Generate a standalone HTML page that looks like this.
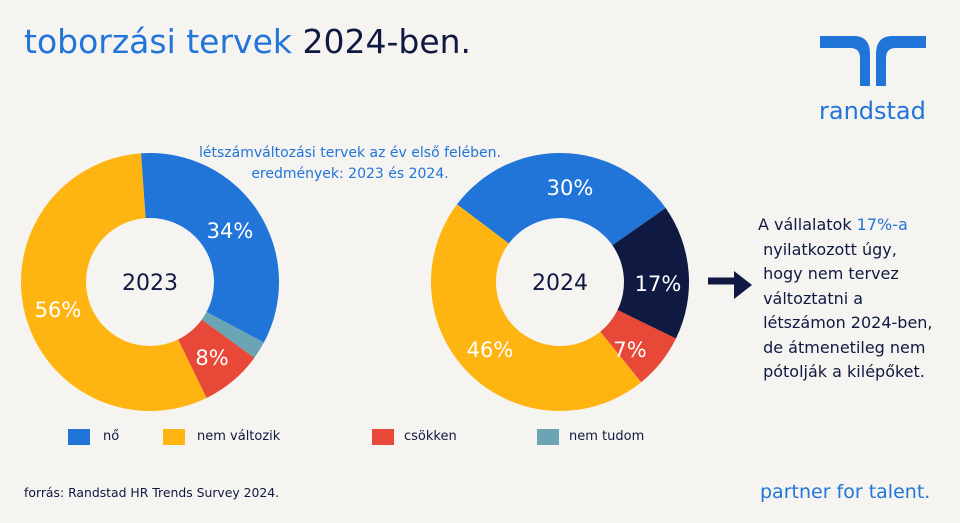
<!DOCTYPE html>
<html><head><meta charset="utf-8"><style>
body{margin:0;width:960px;height:523px;background:#f5f4f0;font-family:"DejaVu Sans","Liberation Sans",sans-serif;overflow:hidden;position:relative}
.t{position:absolute;white-space:nowrap}
</style></head><body>
<div class="t" style="left:24px;top:22px;font-size:33px;color:#2175d9">toborzási tervek <span style="color:#0f1941">2024-ben.</span></div>
<svg style="position:absolute;left:820px;top:36px" width="106" height="50" viewBox="0 0 106 50">
<path d="M0 0 H34 Q50 0 50 18 V50 H40 V22 Q40 12 30 12 H0Z" fill="#2175d9"/>
<path d="M106 0 H72 Q56 0 56 18 V50 H66 V22 Q66 12 76 12 H106Z" fill="#2175d9"/>
</svg>
<div class="t" style="left:819px;top:97px;font-size:24px;color:#2175d9">randstad</div>
<div class="t" style="left:0;width:700px;top:143px;text-align:center;font-size:14px;line-height:21px;color:#2175d9">létszámváltozási tervek az év első felében.<br>eredmények: 2023 és 2024.</div>
<svg style="position:absolute;left:0;top:0" width="960" height="523" id="s"></svg>
<div class="t" style="left:758px;top:213px;font-size:16px;line-height:24.5px;color:#0f1941">A vállalatok <span style="color:#2175d9">17%-a</span><br>&nbsp;nyilatkozott úgy,<br>&nbsp;hogy nem tervez<br>&nbsp;változtatni a<br>&nbsp;létszámon 2024-ben,<br>&nbsp;de átmenetileg nem<br>&nbsp;pótolják a kilépőket.</div>
<div style="position:absolute;left:68px;top:429px;width:22px;height:16px;background:#2175d9"></div>
<div class="t" style="left:103px;top:429px;font-size:13px;color:#0f1941">nő</div>
<div style="position:absolute;left:163px;top:429px;width:22px;height:16px;background:#ffb511"></div>
<div class="t" style="left:197px;top:429px;font-size:13px;color:#0f1941">nem változik</div>
<div style="position:absolute;left:372px;top:429px;width:22px;height:16px;background:#e74837"></div>
<div class="t" style="left:404px;top:429px;font-size:13px;color:#0f1941">csökken</div>
<div style="position:absolute;left:537px;top:429px;width:22px;height:16px;background:#6ba5b4"></div>
<div class="t" style="left:569px;top:429px;font-size:13px;color:#0f1941">nem tudom</div>
<div class="t" style="left:24px;top:485px;font-size:12.4px;color:#0f1941">forrás: Randstad HR Trends Survey 2024.</div>
<div class="t" style="left:760px;top:481px;font-size:19px;color:#2175d9">partner for talent.</div>
<script>
const s=document.getElementById('s');let h='';
function seg(cx,cy,a0,a1,c){const R=129,r=64,rad=a=>(a-90)*Math.PI/180;
const p=(rr,a)=>[cx+rr*Math.cos(rad(a)),cy+rr*Math.sin(rad(a))];
const l=(a1-a0)>180?1:0;const[a,b]=p(R,a0),[c2,d]=p(R,a1),[e,f]=p(r,a1),[g,k]=p(r,a0);
h+=`<path d="M${a} ${b}A${R} ${R} 0 ${l} 1 ${c2} ${d}L${e} ${f}A${r} ${r} 0 ${l} 0 ${g} ${k}Z" fill="${c}"/>`;}
seg(150,282,-4,118,'#2175d9');seg(150,282,118,126,'#6ba5b4');seg(150,282,126,154,'#e74837');seg(150,282,154,356,'#ffb511');
seg(560,282,-53,55,'#2175d9');seg(560,282,55,116,'#0f1941');seg(560,282,116,141,'#e74837');seg(560,282,141,307,'#ffb511');
const T=(x,y,t,c,fs)=>h+=`<text x="${x}" y="${y}" fill="${c}" font-size="${fs||21}" text-anchor="middle" font-family="DejaVu Sans,sans-serif">${t}</text>`;
T(150,290,'2023','#0f1941',22);T(560,290,'2024','#0f1941',22);
T(230,238,'34%','#fff');T(212,365,'8%','#fff');T(58,317,'56%','#fff');
T(570,195,'30%','#fff');T(658,291,'17%','#fff');T(630,357,'7%','#fff');T(490,357,'46%','#fff');
h+=`<path d="M708 281H738" stroke="#0f1941" stroke-width="7"/><path d="M734 271L752 285L734 299Z" fill="#0f1941"/>`;
s.innerHTML=h;
</script>
</body></html>
